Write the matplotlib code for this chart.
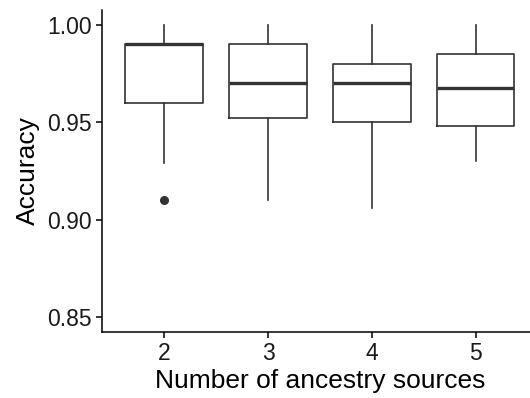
import matplotlib.pyplot as plt

plt.rcParams['font.family'] = ['Liberation Sans', 'DejaVu Sans']

# Box summary per number of ancestry sources
sources = ['2', '3', '4', '5']
whisker_low = [0.929, 0.910, 0.906, 0.930]
q1 = [0.960, 0.952, 0.950, 0.948]
median = [0.990, 0.970, 0.970, 0.9675]
q3 = [0.990, 0.990, 0.980, 0.985]
whisker_high = [1.000, 1.000, 1.000, 1.000]
outliers = [[0.910], [], [], []]

stats = []
for i, name in enumerate(sources):
    stats.append({
        'label': name,
        'whislo': whisker_low[i],
        'q1': q1[i],
        'med': median[i],
        'q3': q3[i],
        'whishi': whisker_high[i],
        'fliers': outliers[i],
    })

fig = plt.figure(figsize=(5.30, 3.98), dpi=100)
ax = fig.add_axes([0.1925, 0.1666, 0.8222, 0.8084])

line_col = '#333333'
ax.bxp(
    stats,
    positions=range(1, len(sources) + 1),
    widths=0.75,
    showcaps=False,
    boxprops=dict(color=line_col, linewidth=1.2),
    whiskerprops=dict(color=line_col, linewidth=1.2),
    medianprops=dict(color=line_col, linewidth=2.4, solid_capstyle='butt'),
    flierprops=dict(marker='o', markerfacecolor=line_col, markeredgecolor=line_col,
                    markersize=5.5),
)

ax.set_xlim(0.4, 4.6)
ax.set_ylim(0.8425, 1.0075)
ax.set_yticks([0.85, 0.90, 0.95, 1.00])
ax.set_yticklabels(['0.85', '0.90', '0.95', '1.00'])
ax.set_xticks(range(1, len(sources) + 1))
ax.set_xticklabels(sources)

for side in ['top', 'right']:
    ax.spines[side].set_visible(False)
for side in ['left', 'bottom']:
    ax.spines[side].set_linewidth(1.1)
    ax.spines[side].set_color('black')

ax.tick_params(axis='both', length=4.5, width=1.1, color='black',
               labelsize=16.5, labelcolor='#1a1a1a', pad=3)

ax.set_xlabel('Number of ancestry sources', fontsize=19, color='black', labelpad=2.5)
ax.set_ylabel('Accuracy', fontsize=19, color='black', labelpad=5)

fig.savefig('out.png', dpi=100)
